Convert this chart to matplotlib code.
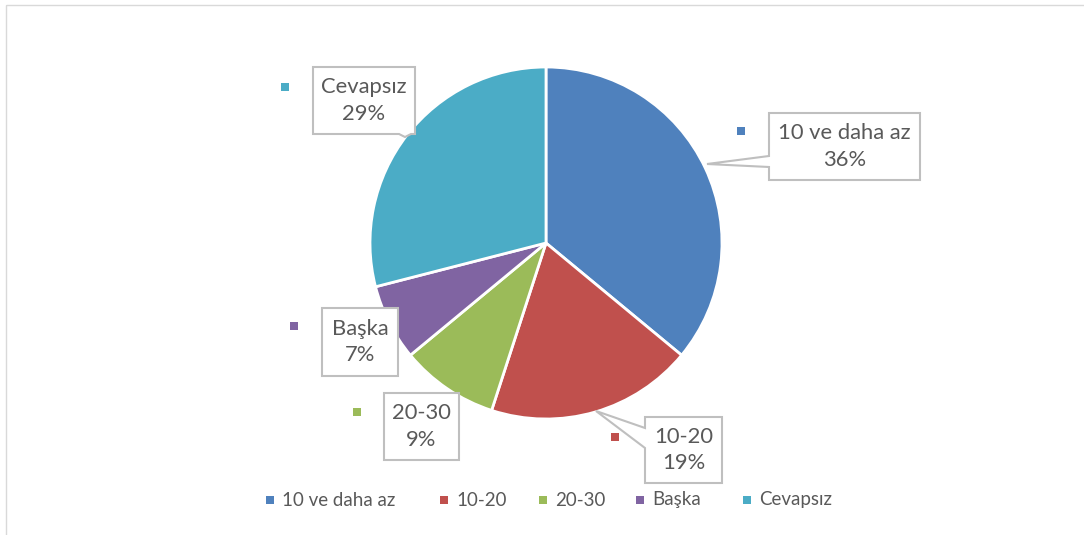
import matplotlib.pyplot as plt
from matplotlib.patches import Polygon, Rectangle

# data
categories = ["10 ve daha az", "10-20", "20-30", "Başka", "Cevapsız"]
shares = [36, 19, 9, 7, 29]
colors = ["#4F81BD", "#C0504D", "#9BBB59", "#8064A2", "#4BACC6"]

TXT = "#595959"
EDGE = "#BFBFBF"
FONT = "Lato"

fig = plt.figure(figsize=(10.84, 5.35), dpi=100)
ax = fig.add_axes([0, 0, 1, 1])

# chart area border
ax.add_patch(Rectangle((6, 5), 1200, 600, fill=False, edgecolor="#D9D9D9", lw=1))

# pie (y axis inverted -> start at -90, counterclock in data = clockwise visually)
ax.pie(shares, colors=colors, startangle=-90, counterclock=True,
       center=(546, 243), radius=176, frame=True,
       wedgeprops=dict(edgecolor="white", linewidth=2))
ax.set_xlim(0, 1084)
ax.set_ylim(535, 0)  # pixel coordinates, y down
ax.set_aspect("equal")
ax.axis("off")

# callout boxes: (x0, y0, x1, y1), wedge side + points, marker position
boxes = [
    ((769, 113, 920, 180), ("left", [(769, 167), (707, 164), (769, 156)]), (741, 131)),
    ((645, 417, 722, 483), ("left", [(645, 448), (596, 411), (645, 428)]), (615, 437)),
    ((384, 393, 459, 460), None, (357, 412)),
    ((322, 308, 398, 376), None, (294, 326)),
    ((313, 67, 415, 134), ("bottom", [(411, 134), (405, 137), (399, 134)]), (285, 87)),
]

for i, ((x0, y0, x1, y1), wedge, mk) in enumerate(boxes):
    if wedge and wedge[0] == "bottom":
        pts = [(x0, y0), (x1, y0), (x1, y1)] + wedge[1] + [(x0, y1)]
    else:
        pts = [(x0, y0), (x1, y0), (x1, y1), (x0, y1)]
        if wedge:
            pts += wedge[1]
    ax.add_patch(Polygon(pts, closed=True, facecolor="white", edgecolor=EDGE, lw=1.5, zorder=3))
    ax.text((x0 + x1) / 2, (y0 + y1) / 2, f"{categories[i]}\n{shares[i]}%",
            ha="center", va="center", fontsize=15.8, color=TXT, family=FONT,
            linespacing=1.4, zorder=4)
    ax.add_patch(Rectangle((mk[0] - 4, mk[1] - 4), 8, 8, facecolor=colors[i],
                           edgecolor="none", zorder=4))

# legend
leg_x = [270, 444, 543, 640, 747]
for i, x in enumerate(leg_x):
    ax.add_patch(Rectangle((x - 4, 496), 8, 8, facecolor=colors[i], edgecolor="none"))
    ax.text(x + 12, 500, categories[i], ha="left", va="center", fontsize=13.5,
            color=TXT, family=FONT)

fig.savefig("out.png", dpi=100)
